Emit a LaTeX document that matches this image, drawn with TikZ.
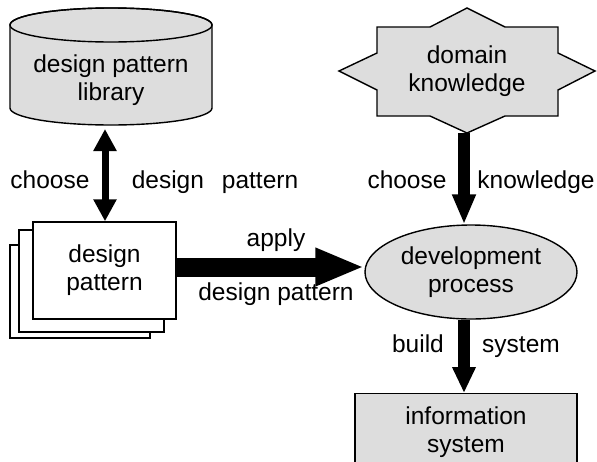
\documentclass[tikz,border=0pt]{standalone}
\usepackage{fontspec}
\setmainfont{Liberation Sans}
\usepackage{xcolor}
\usetikzlibrary{arrows.meta, shapes.geometric, positioning}
\definecolor{boxgray}{RGB}{221,221,221}

\begin{document}
\begin{tikzpicture}[
    x=1pt, y=-1pt,
    font=\fontsize{24.5}{28}\selectfont,
    line width=1.4pt,
    box/.style={draw, fill=boxgray, align=center, inner sep=0pt},
    txt/.style={align=center, inner sep=0pt},
    lbl/.style={anchor=base, inner sep=0pt},
    fat/.style={line width=#1, -{Triangle[width=22pt, length=26pt]}}
]

% --- RAHMEN ---
\clip (0,0) rectangle (597,461);

% --- BIBLIOTHEK (Zylinder) ---
\draw[fill=boxgray] (10,25) -- (10,108)
    arc[start angle=180, end angle=360, x radius=101pt, y radius=17pt]
    -- (212,25)
    arc[start angle=0, end angle=180, x radius=101pt, y radius=17pt] -- cycle;
\draw (111,25) ellipse[x radius=101pt, y radius=17pt];
\node[txt] (lib) at (111,80) {design pattern\\library};
\coordinate (libbot) at (105,129);

% --- MUSTER-STAPEL ---
\draw[fill=white] (10,245) rectangle (150,338);
\draw[fill=white] (19,230) rectangle (164,332);
\node[box, fill=white, minimum width=143pt, minimum height=97pt] (pat) at (104.5,270.5) {design\\pattern};

% --- DOMAENENWISSEN (Stern) ---
\draw[fill=boxgray] (467,8) -- (505,27) -- (558,27) -- (558,53) -- (595,71)
    -- (558,90) -- (558,116) -- (505,116) -- (467,133) -- (430,116)
    -- (377,116) -- (377,90) -- (339,71) -- (377,53) -- (377,27) -- (430,27) -- cycle;
\node[txt] (dk) at (467,71) {domain\\knowledge};
\coordinate (dkbot) at (464,133);

% --- PROZESS UND SYSTEM ---
\node[box, ellipse, minimum width=212pt, minimum height=94pt] (dev) at (471,272) {development\\process};
\node[box, minimum width=222pt, minimum height=76pt, anchor=north] (info) at (466,393) {information\\system};

% --- PFEILE ---
\draw[line width=7pt, {Triangle[width=22pt, length=22pt]}-{Triangle[width=22pt, length=22pt]}]
    (libbot) -- (libbot |- pat.north);
\draw[fat=12pt, -{Triangle[width=22pt, length=30pt]}] (dkbot) -- (dkbot |- dev.north);
\draw[line width=19pt, -{Triangle[width=35pt, length=49pt]}]
    ([yshift=3.5pt]pat.east) -- ([yshift=3.5pt]pat.east -| dev.west);
\draw[fat=12pt] ([xshift=-7pt]dev.south) -- ([xshift=-7pt]dev.south |- info.north);

% --- BESCHRIFTUNG ---
\node[lbl] (ch1) at (50,188) {choose};
\node[lbl] (dp1) at (215,188) {design\hspace{18pt}pattern};
\node[lbl] (ch2) at (407,188) {choose};
\node[lbl] (kn) at (536,188) {knowledge};
\node[lbl] (ap) at (276,246) {apply};
\node[lbl] (dp2) at (276,300) {design pattern};
\node[lbl] (bu) at (418,352) {build};
\node[lbl] (sy) at (521,352) {system};
\end{tikzpicture}
\end{document}
